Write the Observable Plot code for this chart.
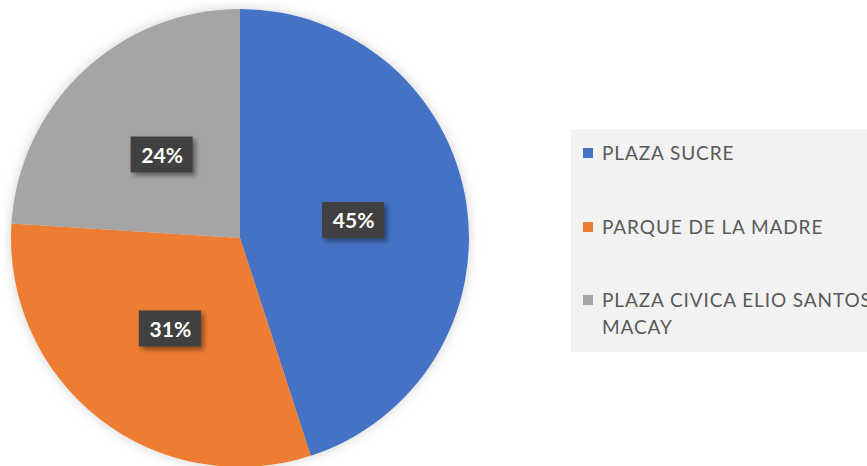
<!DOCTYPE html>
<html><head><meta charset="utf-8">
<script src="https://cdn.jsdelivr.net/npm/d3@7"></script>
<script src="https://cdn.jsdelivr.net/npm/@observablehq/plot@0.6"></script>
<style>
body{margin:0;background:#fff;}
#wrap{position:relative;width:867px;height:466px;overflow:hidden;}
#legend{position:absolute;left:571px;top:129px;width:310px;height:223px;background:#f2f2f2;font-family:Lato,"Open Sans",sans-serif;font-size:19px;letter-spacing:0.9px;color:#595959;}
.item{position:absolute;left:31px;line-height:27px;white-space:nowrap;}
.sw{position:absolute;left:-19px;top:9px;width:10px;height:10px;}
</style></head>
<body><div id="wrap"><div id="chart"></div><div id="legend"></div></div>
<script>
const categories = ["PLAZA SUCRE", "PARQUE DE LA MADRE", "PLAZA CIVICA ELIO SANTOS MACAY"];
const legendLines = [["PLAZA SUCRE"], ["PARQUE DE LA MADRE"], ["PLAZA CIVICA ELIO SANTOS", "MACAY"]];
const values = [45, 31, 24];
const labels = ["45%", "31%", "24%"];
const colors = ["#4472C4", "#ED7D31", "#A5A5A5"];

const data = categories.map((c, i) => ({category: c, value: values[i], label: labels[i], color: colors[i]}));
const arcs = d3.pie().sort(null).value(d => d.value)(data);
const unitArc = d3.arc().innerRadius(0).outerRadius(1);
const labelData = arcs.map(a => { const [cx, cy] = unitArc.centroid(a); return {x: cx, y: cy, label: a.data.label}; });

function pieMark(index, scales) {
  const x = scales.x, y = scales.y;
  const r = (x(1) - x(-1)) / 2;
  const cx = x(0), cy = y(0);
  const svg = d3.create("svg:g");
  const defs = svg.append("defs");
  const f = defs.append("filter").attr("id", "pieShadow").attr("x", "-20%").attr("y", "-20%").attr("width", "140%").attr("height", "140%");
  f.append("feDropShadow").attr("dx", 0).attr("dy", 0).attr("stdDeviation", 6).attr("flood-color", "#000").attr("flood-opacity", 0.18);
  const f2 = defs.append("filter").attr("id", "boxShadow").attr("x", "-30%").attr("y", "-30%").attr("width", "160%").attr("height", "160%");
  f2.append("feDropShadow").attr("dx", 3).attr("dy", 3).attr("stdDeviation", 2.5).attr("flood-color", "#000").attr("flood-opacity", 0.45);
  const arc = d3.arc().innerRadius(0).outerRadius(r);
  const g = svg.append("g").attr("transform", `translate(${cx},${cy})`).attr("filter", "url(#pieShadow)");
  g.selectAll("path").data(arcs).join("path").attr("d", arc).attr("fill", d => d.data.color);
  svg.append("g").selectAll("rect").data(labelData).join("rect")
    .attr("x", d => x(d.x) - 31).attr("y", d => y(d.y) - 18)
    .attr("width", 62).attr("height", 36).attr("fill", "#404040").attr("filter", "url(#boxShadow)");
  return svg.node();
}

const chart = Plot.plot({
  width: 867, height: 466,
  margin: 0,
  x: {domain: [-1, 1], range: [11, 469], axis: null},
  y: {domain: [-1, 1], range: [9, 467], axis: null},
  style: {background: "transparent"},
  marks: [
    pieMark,
    Plot.text(labelData, {x: "x", y: "y", text: "label", fill: "white", fontWeight: "bold", fontSize: 21, fontFamily: "Lato, 'Open Sans', sans-serif", dy: 1})
  ]
});
document.getElementById("chart").appendChild(chart);

const legend = document.getElementById("legend");
const tops = [10, 84, 157];
legendLines.forEach((lines, i) => {
  const item = document.createElement("div");
  item.className = "item";
  item.style.top = tops[i] + "px";
  item.innerHTML = lines.join("<br>");
  const sw = document.createElement("div");
  sw.className = "sw";
  sw.style.background = colors[i];
  item.appendChild(sw);
  legend.appendChild(item);
});
</script></body></html>
